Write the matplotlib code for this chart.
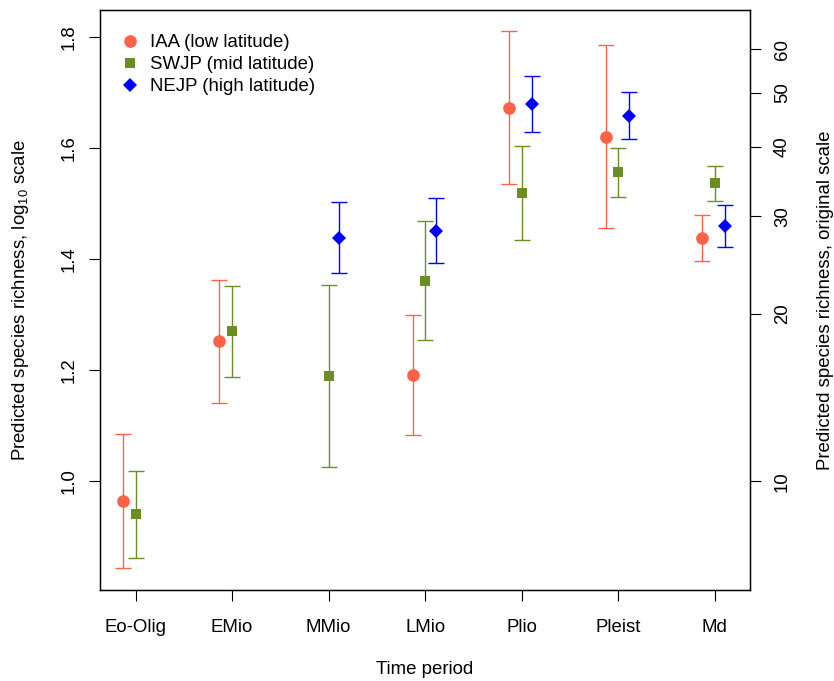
import numpy as np
import matplotlib
matplotlib.use("Agg")
import matplotlib.pyplot as plt

plt.rcParams['font.family'] = ['Liberation Sans', 'DejaVu Sans']
plt.rcParams['mathtext.default'] = 'regular'

periods = ["Eo-Olig", "EMio", "MMio", "LMio", "Plio", "Pleist", "Md"]

iaa_mean = [0.9635, 1.2516, np.nan, 1.191, 1.6726, 1.6205, 1.4385]
iaa_lo   = [0.843, 1.1414, np.nan, 1.083, 1.535, 1.455, 1.396]
iaa_hi   = [1.085, 1.363, np.nan, 1.299, 1.810, 1.785, 1.480]

swjp_mean = [0.940, 1.270, 1.189, 1.361, 1.519, 1.556, 1.537]
swjp_lo   = [0.862, 1.188, 1.025, 1.254, 1.434, 1.511, 1.504]
swjp_hi   = [1.018, 1.352, 1.354, 1.468, 1.604, 1.600, 1.568]

nejp_mean = [np.nan, np.nan, 1.437, 1.451, 1.679, 1.658, 1.4588]
nejp_lo   = [np.nan, np.nan, 1.374, 1.392, 1.628, 1.617, 1.422]
nejp_hi   = [np.nan, np.nan, 1.502, 1.510, 1.730, 1.700, 1.4965]

right_ticks = [10, 20, 30, 40, 50, 60]

series = [
    ("IAA (low latitude)", iaa_mean, iaa_lo, iaa_hi, -0.13, "o", 9.1, "#FF6347"),
    ("SWJP (mid latitude)", swjp_mean, swjp_lo, swjp_hi, 0.0, "s", 7.6, "#6B8E23"),
    ("NEJP (high latitude)", nejp_mean, nejp_lo, nejp_hi, 0.11, "D", 7.3, "#0000FF"),
]

fig = plt.figure(figsize=(8.34, 6.81), dpi=100)
ax = fig.add_axes([100/834, 1-590/681, 650/834, (590-9.7)/681])

x = np.arange(1, len(periods)+1)
handles = []
for label, m, lo, hi, off, mk, ms, col in series:
    m = np.array(m); lo = np.array(lo); hi = np.array(hi)
    ax.errorbar(x+off, m, yerr=[m-lo, hi-m], fmt='none', ecolor=col,
                elinewidth=1.0, capsize=6, capthick=1.0, zorder=2)
    h, = ax.plot(x+off, m, linestyle='none', marker=mk, markersize=ms,
                 color=col, markeredgewidth=0, label=label, zorder=3)
    handles.append(h)

ax.set_xlim(0.632, 7.366)
ax.set_ylim(0.804, 1.849)
ax.set_xticks(x)
ax.set_xticklabels(periods)
ax.set_yticks([1.0, 1.2, 1.4, 1.6, 1.8])
ax.set_yticklabels(["1.0", "1.2", "1.4", "1.6", "1.8"], rotation=90, va='center')
ax.tick_params(axis='both', direction='out', length=8.2, width=0.8, labelsize=13.4)
ax.tick_params(axis='y', pad=8)
ax.tick_params(axis='x', pad=13)
for s in ax.spines.values():
    s.set_linewidth(1.0)

ax2 = ax.twinx()
ax2.set_ylim(ax.get_ylim())
ax2.set_yticks(np.log10(right_ticks))
ax2.set_yticklabels([str(t) for t in right_ticks], rotation=90, va='center')
ax2.tick_params(axis='y', direction='out', length=8.2, width=0.8, labelsize=13.4, pad=9)

ax.legend(handles=handles, loc='upper left', bbox_to_anchor=(0.032, 0.958),
          frameon=False, fontsize=13.4, handlelength=1.0, handletextpad=0.575,
          labelspacing=0.27, borderaxespad=0, borderpad=0, numpoints=1)

yc = 1 - ((590+9.7)/2)/681
fig.text(21/834, yc, "Predicted species richness, log$_{10}$ scale", rotation=90,
         ha='center', va='center', fontsize=13.4)
fig.text(825/834, yc, "Predicted species richness, original scale", rotation=90,
         ha='center', va='center', fontsize=13.4)
fig.text(425/834, 1-670/681, "Time period", ha='center', va='center', fontsize=13.4)

fig.savefig("out.png", dpi=100)
